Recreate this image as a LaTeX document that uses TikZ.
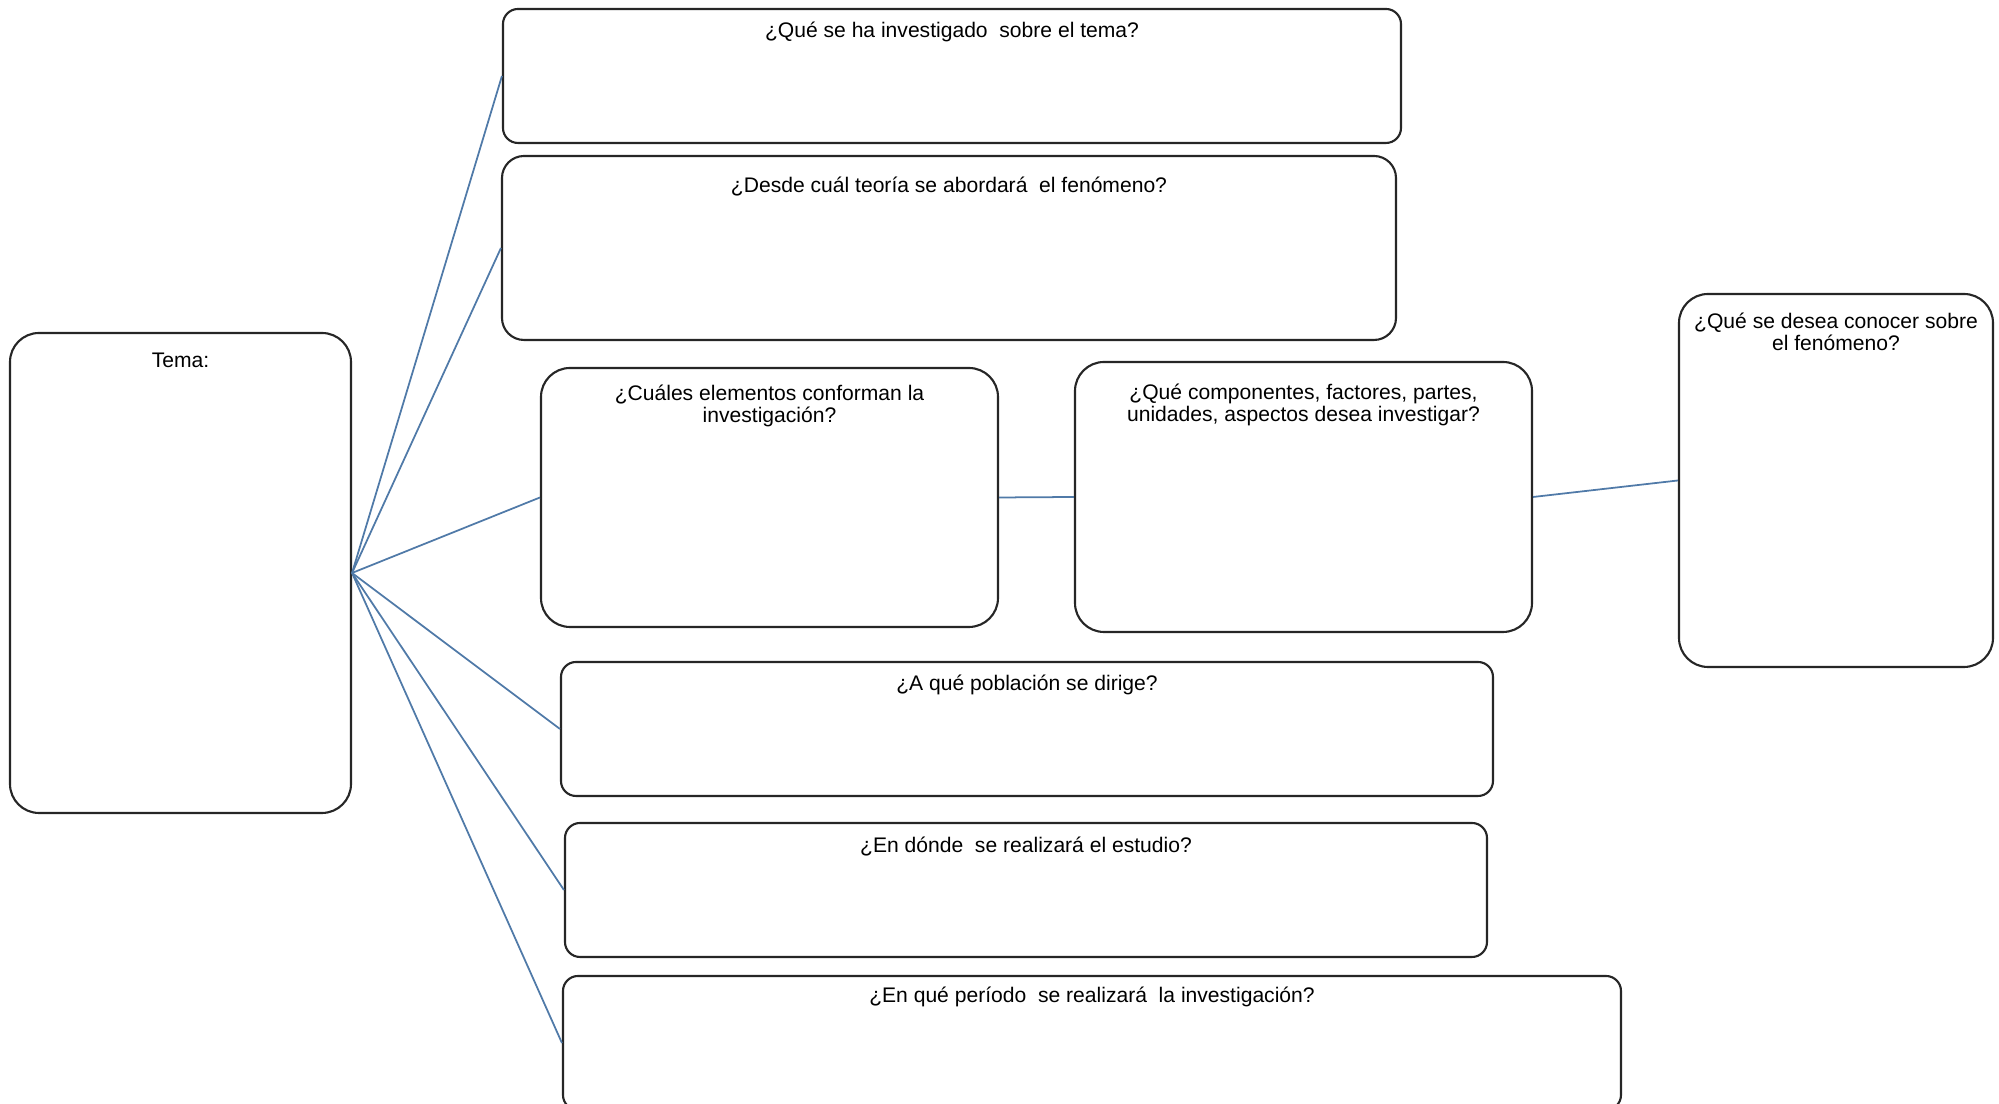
\documentclass[tikz,border=0pt]{standalone}
\usepackage{fontspec}
\setmainfont{Liberation Sans}
\usetikzlibrary{positioning}
\definecolor{linkblue}{RGB}{80,122,168}

\begin{document}
\begin{tikzpicture}[
  box/.style={
    draw=black!85,
    line width=.6pt,
    fill=white,
    inner sep=0pt
  },
  bigbox/.style={box, rounded corners=2.9mm},
  midbox/.style={box, rounded corners=2.2mm},
  flatbox/.style={box, rounded corners=1.5mm},
  title/.style={
    font=\fontsize{6pt}{6.3pt}\selectfont,
    align=center,
    inner sep=0pt,
    text height=4.6pt,
    text depth=1.3pt
  },
  link/.style={draw=linkblue, line width=.5pt}
]

\useasboundingbox (0,0) rectangle (19.99,-11.04);

\node[bigbox, minimum width=3.41cm, minimum height=4.80cm] (tema) at (1.805,-5.73) {};
\node[title, below=1.9mm of tema.north] (tema-txt) {Tema:};

\node[flatbox, minimum width=8.98cm, minimum height=1.34cm] (investigado) at (9.52,-0.76) {};
\node[title, below=1.3mm of investigado.north] (investigado-txt)
  {¿Qué se ha investigado~ sobre el tema?};

\node[midbox, minimum width=8.94cm, minimum height=1.84cm] (teoria) at (9.49,-2.48) {};
\node[title, below=2.1mm of teoria.north] (teoria-txt)
  {¿Desde cuál teoría se abordará~ el fenómeno?};

% two-line titles sit one line lower
\node[bigbox, minimum width=4.57cm, minimum height=2.59cm] (elementos) at (7.695,-4.975) {};
\node[title, below=3.9mm of elementos.north] (elementos-txt)
  {¿Cuáles elementos conforman la\\investigación?};

\node[bigbox, minimum width=4.57cm, minimum height=2.70cm] (componentes) at (13.035,-4.97) {};
\node[title, below=4.4mm of componentes.north] (componentes-txt)
  {¿Qué componentes, factores, partes,\\unidades, aspectos desea investigar?};

\node[bigbox, minimum width=3.14cm, minimum height=3.73cm] (conocer) at (18.36,-4.805) {};
\node[title, below=4.1mm of conocer.north] (conocer-txt)
  {¿Qué se desea conocer sobre\\el fenómeno?};

\node[flatbox, minimum width=9.32cm, minimum height=1.34cm] (poblacion) at (10.27,-7.29) {};
\node[title, below=1.3mm of poblacion.north] (poblacion-txt)
  {¿A qué población se dirige?};

\node[flatbox, minimum width=9.22cm, minimum height=1.34cm] (lugar) at (10.26,-8.90) {};
\node[title, below=1.4mm of lugar.north] (lugar-txt)
  {¿En dónde~ se realizará el estudio?};

\node[flatbox, minimum width=10.58cm, minimum height=1.34cm] (periodo) at (10.92,-10.43) {};
\node[title, below=1.1mm of periodo.north] (periodo-txt)
  {¿En qué período~ se realizará~ la investigación?};

\draw[link] (tema.east) -- (investigado.west);
\draw[link] (tema.east) -- (teoria.west);
\draw[link] (tema.east) -- (elementos.west);
\draw[link] (tema.east) -- (poblacion.west);
\draw[link] (tema.east) -- (lugar.west);
\draw[link] (tema.east) -- (periodo.west);
\draw[link] (elementos.east) -- (componentes.west);
\draw[link] (componentes.east) -- (conocer.west);
\end{tikzpicture}
\end{document}
